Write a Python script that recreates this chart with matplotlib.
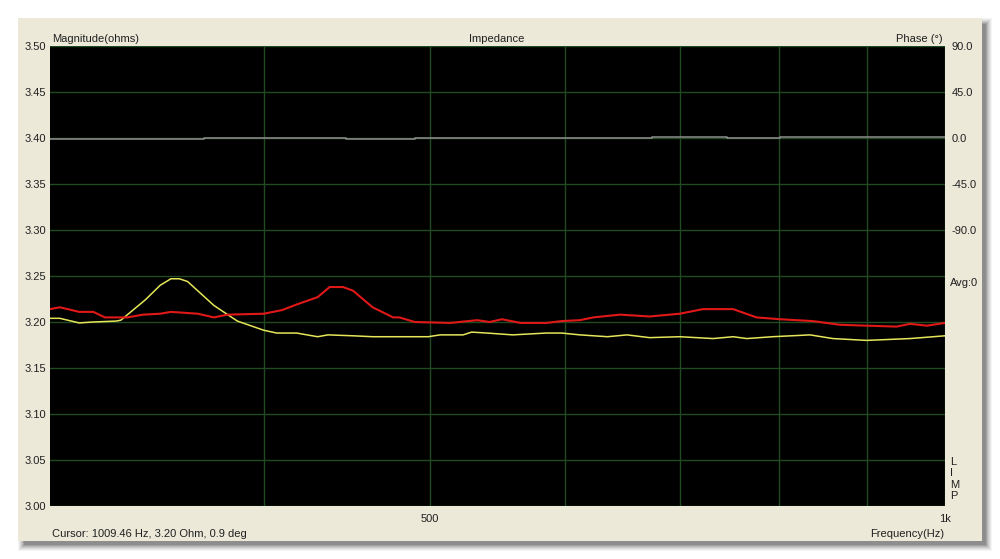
import matplotlib
matplotlib.use("Agg")
import matplotlib.pyplot as plt
from matplotlib.patches import Rectangle

plt.rcParams['font.family'] = ['Liberation Sans', 'DejaVu Sans']

# ---- data ----
red_freq = [300, 304, 312, 318, 323, 333, 340, 348, 353, 366, 374, 381, 400, 410, 418,
            430, 437, 445, 451, 463, 476, 480, 490, 514, 533, 542, 551, 565, 585, 597,
            612, 623, 646, 672, 700, 722, 752, 776, 801, 837, 868, 900, 937, 954, 976, 1000]
red_mag = [3.214, 3.216, 3.211, 3.211, 3.205, 3.205, 3.208, 3.209, 3.211, 3.209, 3.205,
           3.208, 3.209, 3.213, 3.219, 3.227, 3.238, 3.238, 3.234, 3.216, 3.205, 3.205,
           3.200, 3.199, 3.202, 3.200, 3.203, 3.199, 3.199, 3.201, 3.202, 3.205, 3.208,
           3.206, 3.209, 3.214, 3.214, 3.205, 3.203, 3.201, 3.197, 3.196, 3.195, 3.198,
           3.196, 3.199]

yel_freq = [300, 304, 312, 318, 328, 330, 341, 348, 353, 357, 361, 374, 381, 386, 400,
            407, 418, 430, 436, 451, 463, 499, 507, 523, 529, 540, 559, 585, 597, 612,
            635, 652, 672, 700, 732, 752, 766, 793, 834, 860, 900, 954, 1000]
yel_mag = [3.204, 3.204, 3.199, 3.200, 3.201, 3.202, 3.224, 3.240, 3.247, 3.247, 3.244,
           3.218, 3.208, 3.201, 3.191, 3.188, 3.188, 3.184, 3.186, 3.185, 3.184, 3.184,
           3.186, 3.186, 3.189, 3.188, 3.186, 3.188, 3.188, 3.186, 3.184, 3.186, 3.183,
           3.184, 3.182, 3.184, 3.182, 3.184, 3.186, 3.182, 3.180, 3.182, 3.185]

phase_freq = [300, 369, 447, 490, 674, 746, 801, 1000]
phase_deg = [-0.5, 0.3, -0.5, 0.0, 1.0, 0.0, 1.0, 1.0]

mag_ticks = [3.00, 3.05, 3.10, 3.15, 3.20, 3.25, 3.30, 3.35, 3.40, 3.45, 3.50]
phase_ticks = [90, 45, 0, -45, -90]
phase_labels = ["90.0", "45.0", "0.0", "-45.0", "-90.0"]
freq_major = [500, 1000]
freq_major_labels = ["500", "1k"]
freq_minor = [400, 600, 700, 800, 900]

# ---- figure ----
W, H = 1000, 559
fig = plt.figure(figsize=(W / 100, H / 100), dpi=100)
fig.patch.set_facecolor('white')

def fr(x0, y0, x1, y1):
    return (x0 / W, 1 - y1 / H), (x1 - x0) / W, (y1 - y0) / H

# shadow
for i, a in enumerate([0.04, 0.05, 0.06, 0.07, 0.09, 0.11, 0.13]):
    d = 7 - i
    xy, w, h = fr(18 + 3 - d + 4, 18 + 3 - d + 4, 982 + d + 3, 541 + d + 3)
    fig.patches.append(Rectangle(xy, w, h, transform=fig.transFigure,
                                 facecolor='black', alpha=a, edgecolor='none', zorder=-3))
# panel
xy, w, h = fr(18, 18, 982, 541)
fig.patches.append(Rectangle(xy, w, h, transform=fig.transFigure,
                             facecolor='#ECE9D9', edgecolor='none', zorder=-2))

ax = fig.add_axes([50 / W, 1 - 506 / H, 895 / W, 460 / H])
ax.set_facecolor('black')
ax.set_xscale('log')
ax.set_xlim(300, 1000)
ax.set_ylim(3.0, 3.5)
for s in ax.spines.values():
    s.set_visible(False)

ax.set_xticks(freq_major)
ax.set_xticklabels(freq_major_labels)
ax.set_xticks(freq_minor, minor=True)
ax.xaxis.set_minor_formatter(matplotlib.ticker.NullFormatter())
ax.set_yticks(mag_ticks)
ax.set_yticklabels([f"{v:.2f}" for v in mag_ticks])
ax.tick_params(axis='both', which='both', length=0, labelsize=8, colors='#202020')
ax.tick_params(axis='x', pad=6)
ax.tick_params(axis='y', pad=3)
ax.grid(True, which='both', color='#1f4a22', linewidth=1.0)
ax.set_axisbelow(True)

ax.plot(yel_freq, yel_mag, color='#e6e65a', linewidth=1.1, zorder=4)
ax.plot(red_freq, red_mag, color='#e01818', linewidth=1.5, zorder=5)

# phase axis on top (transparent) so the phase trace sits over the grid
ax2 = ax.twinx()
ax2.set_ylim(-360, 90)
ax2.set_yticks(phase_ticks)
ax2.set_yticklabels(phase_labels)
ax2.tick_params(axis='y', length=0, labelsize=8, pad=5, colors='#202020')
for s in ax2.spines.values():
    s.set_visible(False)
ax2.patch.set_visible(False)
ax2.plot(phase_freq, phase_deg, color='#8f8f8f', linewidth=1.1, drawstyle='steps-post', zorder=3)

tc = '#202020'
fig.text(52 / W, 1 - 39 / H, "Magnitude(ohms)", fontsize=8, color=tc, va='center', ha='left')
fig.text(497 / W, 1 - 39 / H, "Impedance", fontsize=8, color=tc, va='center', ha='center')
fig.text(943 / W, 1 - 39 / H, "Phase (°)", fontsize=8, color=tc, va='center', ha='right')
fig.text(950 / W, 1 - 283 / H, "Avg:0", fontsize=8, color=tc, va='center', ha='left')
fig.text(950 / W, 1 - 479 / H, "L\nI\nM\nP", fontsize=8, color=tc, va='center', ha='left',
         linespacing=1.2)
fig.text(52 / W, 1 - 534 / H, "Cursor: 1009.46 Hz, 3.20 Ohm, 0.9 deg", fontsize=8, color=tc,
         va='center', ha='left')
fig.text(944 / W, 1 - 534 / H, "Frequency(Hz)", fontsize=8, color=tc, va='center', ha='right')

fig.savefig('out.png', dpi=100, facecolor=fig.get_facecolor())
